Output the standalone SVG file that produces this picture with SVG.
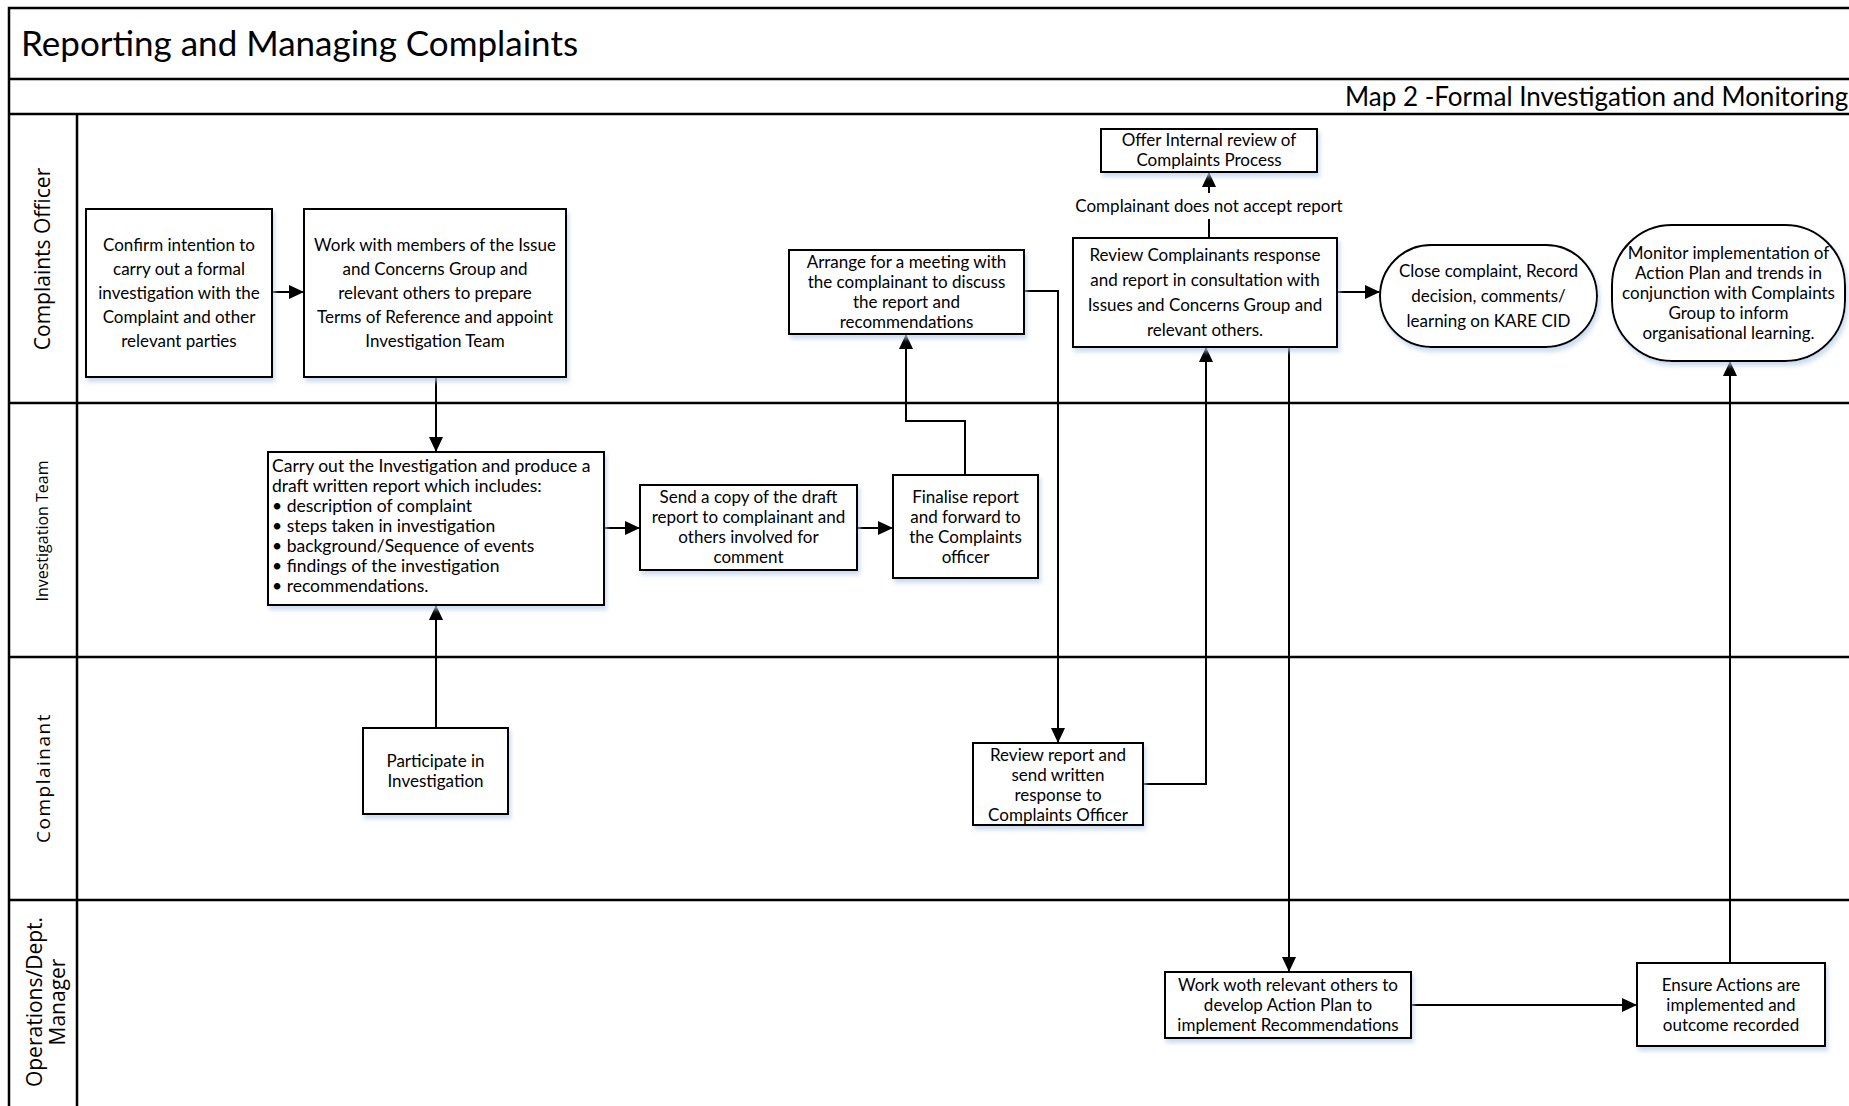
<svg xmlns="http://www.w3.org/2000/svg" width="1849" height="1106" viewBox="0 0 1849 1106">
<style>
.frame{fill:none;stroke:#000;stroke-width:2.5}
.box{fill:#fff;stroke:#000;stroke-width:2;filter:url(#sh)}
.t{font-family:Lato,"Liberation Sans",sans-serif;font-size:17px;fill:#000;text-anchor:middle}
.ts{font-family:Lato,"Liberation Sans",sans-serif;font-size:17px;fill:#000;text-anchor:middle}
.tl{font-family:Lato,"Liberation Sans",sans-serif;font-size:17.5px;fill:#000}
.lane{font-family:"Open Sans","Noto Sans",sans-serif;fill:#000;text-anchor:middle}
.c{fill:none;stroke:#000;stroke-width:2}
</style>
<defs>
<marker id="ah" viewBox="0 0 15 14" refX="15" refY="7" markerWidth="15" markerHeight="14" markerUnits="userSpaceOnUse" orient="auto">
<path d="M0,0 L15,7 L0,14 Z" fill="#000"/>
</marker>
<filter id="sh" x="-10%" y="-10%" width="125%" height="130%">
<feDropShadow dx="2" dy="4" stdDeviation="2" flood-color="#b8cde8" flood-opacity="0.7"/>
</filter>
</defs>
<rect width="1849" height="1106" fill="#fff"/>
<g id="pool">
<rect x="9" y="8" width="1860" height="1120" class="frame"/>
<line x1="9" y1="79" x2="1849" y2="79" class="frame"/>
<line x1="9" y1="114" x2="1849" y2="114" class="frame"/>
<line x1="77" y1="114" x2="77" y2="1106" class="frame"/>
<line x1="9" y1="403" x2="1849" y2="403" class="frame"/>
<line x1="9" y1="657" x2="1849" y2="657" class="frame"/>
<line x1="9" y1="900" x2="1849" y2="900" class="frame"/>
<text x="21" y="56" font-family="Lato,'Liberation Sans',sans-serif" font-size="35">Reporting and Managing Complaints</text>
<text x="1345" y="106" font-family="Lato,'Liberation Sans',sans-serif" font-size="26">Map 2 -Formal Investigation and Monitoring</text>
<text class="lane" font-size="21" transform="translate(50,259) rotate(-90)">Complaints Officer</text>
<text class="lane" font-size="16" transform="translate(48,531) rotate(-90)">Investigation Team</text>
<text class="lane" font-size="19" letter-spacing="1.5" transform="translate(50,778) rotate(-90)">Complainant</text>
<text class="lane" font-size="21" transform="translate(42,1002) rotate(-90)"><tspan x="0" y="0">Operations/Dept.</tspan><tspan x="0" y="23">Manager</tspan></text>
</g>
<g id="connectors">
<path class="c" d="M272,292 H304" marker-end="url(#ah)"/>
<path class="c" d="M436,377 V452" marker-end="url(#ah)"/>
<path class="c" d="M436,728 V605" marker-end="url(#ah)"/>
<path class="c" d="M604,528 H640" marker-end="url(#ah)"/>
<path class="c" d="M857,528 H893" marker-end="url(#ah)"/>
<path class="c" d="M965,475 V421 H906 V334" marker-end="url(#ah)"/>
<path class="c" d="M1024,291 H1058 V743" marker-end="url(#ah)"/>
<path class="c" d="M1143,784 H1206 V347" marker-end="url(#ah)"/>
<path class="c" d="M1209,238 V172" marker-end="url(#ah)"/>
<path class="c" d="M1337,292 H1380" marker-end="url(#ah)"/>
<path class="c" d="M1289,347 V972" marker-end="url(#ah)"/>
<path class="c" d="M1411,1005 H1637" marker-end="url(#ah)"/>
<path class="c" d="M1730,963 V361" marker-end="url(#ah)"/>
<rect x="1068" y="193" width="282" height="26" fill="#fff"/>
<text class="t" x="1209" y="212">Complainant does not accept report</text>
</g>
<g id="nodeA"><rect class="box" x="86" y="209" width="186" height="168"/>
<text class="t"><tspan x="179" y="251">Confirm intention to</tspan><tspan x="179" y="275">carry out a formal</tspan><tspan x="179" y="299">investigation with the</tspan><tspan x="179" y="323">Complaint and other</tspan><tspan x="179" y="347">relevant parties</tspan></text></g>
<g id="nodeB"><rect class="box" x="304" y="209" width="262" height="168"/>
<text class="t"><tspan x="435" y="251">Work with members of the Issue</tspan><tspan x="435" y="275">and Concerns Group and</tspan><tspan x="435" y="299">relevant others to prepare</tspan><tspan x="435" y="323">Terms of Reference and  appoint</tspan><tspan x="435" y="347">Investigation Team</tspan></text></g>
<g id="nodeC"><rect class="box" x="268" y="452" width="336" height="153"/>
<text class="tl"><tspan x="272" y="472">Carry out the Investigation  and produce a</tspan><tspan x="272" y="492">draft written report which includes:</tspan><tspan x="272" y="512">• description  of complaint</tspan><tspan x="272" y="532">• steps taken in investigation</tspan><tspan x="272" y="552">• background/Sequence of events</tspan><tspan x="272" y="572">• findings of the investigation</tspan><tspan x="272" y="592">• recommendations.</tspan></text></g>
<g id="nodeD"><rect class="box" x="640" y="485" width="217" height="85"/>
<text class="ts"><tspan x="748.5" y="503">Send a copy of the draft</tspan><tspan x="748.5" y="523">report to complainant and</tspan><tspan x="748.5" y="543">others involved for</tspan><tspan x="748.5" y="563">comment</tspan></text></g>
<g id="nodeE"><rect class="box" x="893" y="475" width="145" height="103"/>
<text class="ts"><tspan x="965.5" y="503">Finalise report</tspan><tspan x="965.5" y="523">and forward to</tspan><tspan x="965.5" y="543">the  Complaints</tspan><tspan x="965.5" y="563">officer</tspan></text></g>
<g id="nodeF"><rect class="box" x="789" y="250" width="235" height="84"/>
<text class="ts"><tspan x="906.5" y="268">Arrange for a  meeting with</tspan><tspan x="906.5" y="288">the complainant to discuss</tspan><tspan x="906.5" y="308">the report and</tspan><tspan x="906.5" y="328">recommendations</tspan></text></g>
<g id="nodeG"><rect class="box" x="973" y="743" width="170" height="82"/>
<text class="ts"><tspan x="1058" y="761">Review report and</tspan><tspan x="1058" y="781">send written</tspan><tspan x="1058" y="801">response to</tspan><tspan x="1058" y="821">Complaints Officer</tspan></text></g>
<g id="nodeH"><rect class="box" x="1073" y="238" width="264" height="109"/>
<text class="t"><tspan x="1205" y="261">Review Complainants response</tspan><tspan x="1205" y="286">and report in consultation with</tspan><tspan x="1205" y="311">Issues and Concerns Group and</tspan><tspan x="1205" y="336">relevant others.</tspan></text></g>
<g id="nodeI"><rect class="box" x="1101" y="129" width="216" height="43"/>
<text class="ts"><tspan x="1209" y="146">Offer Internal review of</tspan><tspan x="1209" y="166">Complaints Process</tspan></text></g>
<g id="nodeJ"><rect class="box" x="1380" y="245" width="217" height="102" rx="51" ry="51"/>
<text class="t"><tspan x="1488.5" y="277">Close complaint, Record</tspan><tspan x="1488.5" y="302">decision, comments/</tspan><tspan x="1488.5" y="327">learning on KARE CID</tspan></text></g>
<g id="nodeK"><rect class="box" x="1612" y="225" width="233" height="136" rx="60" ry="60"/>
<text class="ts"><tspan x="1728.5" y="259">Monitor implementation of</tspan><tspan x="1728.5" y="279">Action Plan and trends in</tspan><tspan x="1728.5" y="299">conjunction with Complaints</tspan><tspan x="1728.5" y="319">Group to inform</tspan><tspan x="1728.5" y="339">organisational learning.</tspan></text></g>
<g id="nodeL"><rect class="box" x="363" y="728" width="145" height="86"/>
<text class="ts"><tspan x="435.5" y="767">Participate in</tspan><tspan x="435.5" y="787">Investigation</tspan></text></g>
<g id="nodeM"><rect class="box" x="1165" y="972" width="246" height="66"/>
<text class="ts"><tspan x="1288" y="991">Work woth relevant others to</tspan><tspan x="1288" y="1011">develop Action Plan to</tspan><tspan x="1288" y="1031">implement Recommendations</tspan></text></g>
<g id="nodeN"><rect class="box" x="1637" y="963" width="188" height="83"/>
<text class="ts"><tspan x="1731" y="991">Ensure Actions are</tspan><tspan x="1731" y="1011">implemented and</tspan><tspan x="1731" y="1031">outcome recorded</tspan></text></g>
</svg>
